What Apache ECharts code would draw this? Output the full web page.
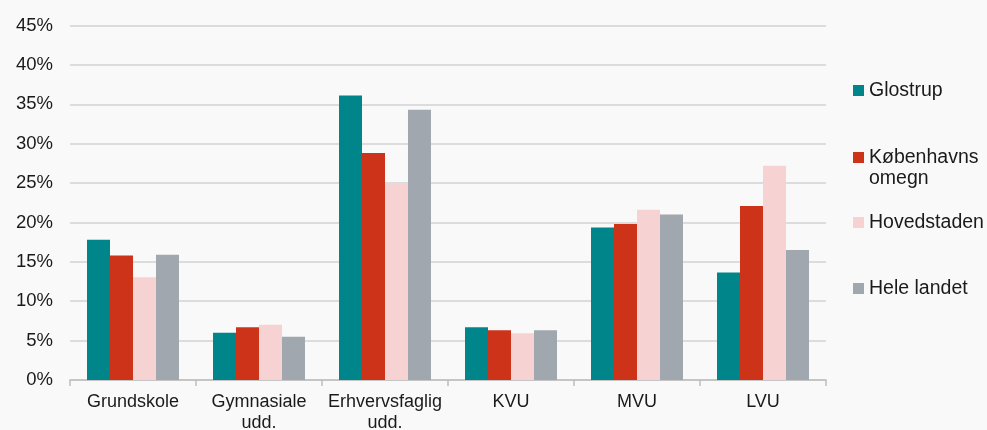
<!DOCTYPE html>
<html>
<head>
<meta charset="utf-8">
<script src="https://cdn.jsdelivr.net/npm/echarts@6/dist/echarts.min.js"></script>
<style>
html,body{margin:0;padding:0;background:#f9f9f9;}
#c{width:987px;height:430px;}
</style>
</head>
<body>
<div id="c"></div>
<script>
const categories = ['Grundskole', 'Gymnasiale\nudd.', 'Erhvervsfaglig\nudd.', 'KVU', 'MVU', 'LVU'];
const seriesNames = ['Glostrup', 'Københavns omegn', 'Hovedstaden', 'Hele landet'];
const glostrup = [17.8, 6.0, 36.1, 6.7, 19.35, 13.65];
const kobenhavnsOmegn = [15.8, 6.7, 28.8, 6.3, 19.8, 22.1];
const hovedstaden = [13.05, 7.0, 24.9, 5.95, 21.6, 27.2];
const heleLandet = [15.9, 5.5, 34.3, 6.3, 21.0, 16.5];
const yTicks = [0, 5, 10, 15, 20, 25, 30, 35, 40, 45];

const colors = ['#00858a', '#cd3319', '#f7d2d2', '#a0a7ae'];
const values = [glostrup, kobenhavnsOmegn, hovedstaden, heleLandet];
const font = 'Liberation Sans, Arial, sans-serif';

const legendTops = [75, 121, 207, 273];
const legends = seriesNames.map((n, i) => ({
  data: [n],
  orient: 'vertical',
  left: 848,
  top: legendTops[i],
  itemWidth: 11,
  itemHeight: 11,
  icon: 'rect',
  itemGap: 0,
  selectedMode: false,
  formatter: (name) => name === 'Københavns omegn' ? ' \nKøbenhavns\nomegn' : name,
  textStyle: {fontFamily: font, fontSize: 19.5, color: '#1a1a1a', lineHeight: 21}
}));

const chart = echarts.init(document.getElementById('c'), null, {renderer: 'canvas'});
chart.setOption({
  backgroundColor: '#f9f9f9',
  animation: false,
  color: colors,
  grid: {left: 70, right: 161, top: 25.5, bottom: 50, containLabel: false, outerBoundsMode: 'none'},
  legend: legends,
  xAxis: {
    type: 'category',
    data: categories,
    axisLine: {lineStyle: {color: '#bdbdbd', width: 1.5}},
    axisTick: {show: true, length: 6, lineStyle: {color: '#bdbdbd', width: 1.5}},
    axisLabel: {fontFamily: font, fontSize: 18, color: '#1a1a1a', margin: 12, lineHeight: 21, interval: 0}
  },
  yAxis: {
    type: 'value',
    min: yTicks[0],
    max: yTicks[yTicks.length - 1],
    interval: 5,
    axisLine: {show: false},
    axisTick: {show: false},
    splitLine: {lineStyle: {color: '#d2d2d2', width: 1.5}},
    axisLabel: {fontFamily: font, fontSize: 18.5, color: '#1a1a1a', margin: 17, formatter: '{value}%'}
  },
  series: seriesNames.map((n, i) => ({
    name: n,
    type: 'bar',
    data: values[i],
    barGap: '0%',
    barCategoryGap: '27%',
    itemStyle: {color: colors[i]}
  }))
});
</script>
</body>
</html>
